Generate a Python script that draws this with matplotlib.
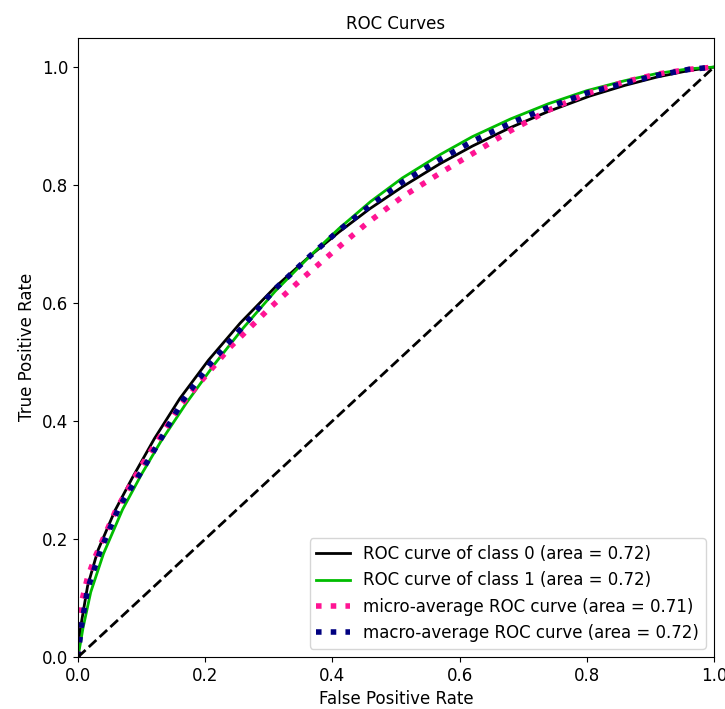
import numpy as np
import matplotlib
matplotlib.use('Agg')
import matplotlib.pyplot as plt

# ROC points
fpr_class0 = [0.0, 0.004, 0.015, 0.031, 0.058, 0.085, 0.12, 0.16, 0.205, 0.255,
              0.31, 0.365, 0.41, 0.459, 0.51, 0.569, 0.62, 0.679, 0.74, 0.805,
              0.86, 0.91, 0.96, 1.0]
tpr_class0 = [0.0, 0.05, 0.12, 0.18, 0.248, 0.303, 0.37, 0.438, 0.503, 0.566,
              0.627, 0.68, 0.72, 0.76, 0.797, 0.836, 0.866, 0.897, 0.925, 0.951,
              0.969, 0.983, 0.994, 1.0]

fpr_class1 = [0.0, 0.008, 0.02, 0.04, 0.07, 0.1, 0.13, 0.17, 0.215, 0.26,
              0.31, 0.365, 0.41, 0.46, 0.51, 0.57, 0.62, 0.68, 0.74, 0.8,
              0.86, 0.91, 0.96, 1.0]
tpr_class1 = [0.0, 0.05, 0.11, 0.175, 0.25, 0.31, 0.365, 0.43, 0.497, 0.558,
              0.62, 0.68, 0.726, 0.772, 0.812, 0.852, 0.882, 0.912, 0.938, 0.96,
              0.977, 0.989, 0.997, 1.0]

fpr_micro = [0.0, 0.002, 0.006, 0.015, 0.027, 0.06, 0.1, 0.16, 0.239, 0.3,
             0.354, 0.41, 0.454, 0.51, 0.569, 0.62, 0.68, 0.74, 0.8, 0.86,
             0.91, 0.96, 1.0]
tpr_micro = [0.0, 0.06, 0.095, 0.135, 0.17, 0.25, 0.325, 0.425, 0.525, 0.59,
             0.643, 0.695, 0.735, 0.78, 0.82, 0.853, 0.892, 0.927, 0.955, 0.975,
             0.988, 0.996, 1.0]

fpr_macro = [0.0, 0.005, 0.015, 0.035, 0.065, 0.1, 0.125, 0.165, 0.21, 0.26,
             0.31, 0.365, 0.41, 0.46, 0.51, 0.57, 0.62, 0.68, 0.74, 0.8,
             0.86, 0.91, 0.96, 1.0]
tpr_macro = [0.0, 0.05, 0.115, 0.18, 0.255, 0.315, 0.36, 0.435, 0.5, 0.561,
             0.624, 0.68, 0.723, 0.766, 0.805, 0.844, 0.874, 0.905, 0.932, 0.956,
             0.973, 0.986, 0.996, 1.0]

labels = ['ROC curve of class 0 (area = 0.72)',
          'ROC curve of class 1 (area = 0.72)',
          'micro-average ROC curve (area = 0.71)',
          'macro-average ROC curve (area = 0.72)']


def main():
    fig = plt.figure(figsize=(7.25, 7.09), dpi=100)
    ax = fig.add_axes([0.1076, 0.0733, 0.8772, 0.8737])

    cmap = plt.get_cmap('nipy_spectral')
    ax.plot(fpr_class0, tpr_class0, lw=2, color=cmap(0.0), label=labels[0])
    ax.plot(fpr_class1, tpr_class1, lw=2, color=cmap(0.5), label=labels[1])
    ax.plot(fpr_micro, tpr_micro, color='deeppink', linestyle=':', linewidth=4,
            label=labels[2])
    ax.plot(fpr_macro, tpr_macro, color='navy', linestyle=':', linewidth=4,
            label=labels[3])
    ax.plot([0, 1], [0, 1], 'k--', lw=2)

    ax.set_xlim([0.0, 1.0])
    ax.set_ylim([0.0, 1.05])
    ax.set_title('ROC Curves', fontsize=12)
    ax.set_xlabel('False Positive Rate', fontsize=12)
    ax.set_ylabel('True Positive Rate', fontsize=12)
    ax.tick_params(labelsize=12)
    ax.legend(loc='lower right', fontsize=12)

    fig.savefig('out.png', dpi=100)


if __name__ == '__main__':
    main()
